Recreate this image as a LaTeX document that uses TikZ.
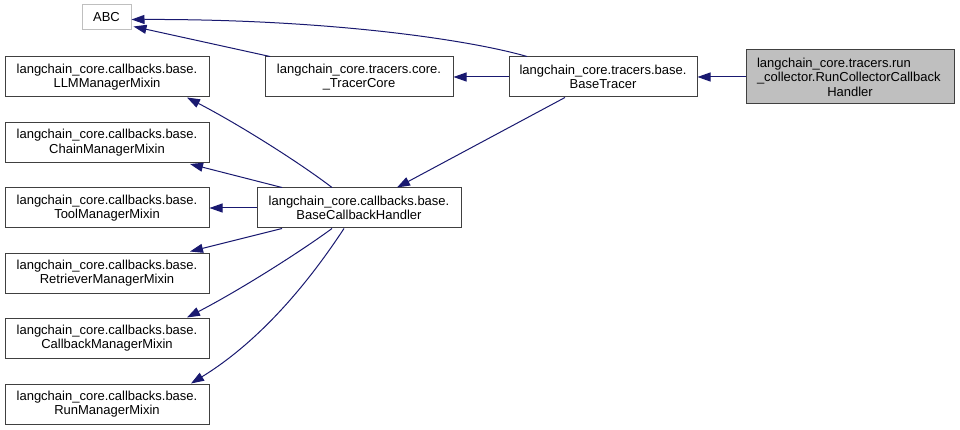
\documentclass[tikz,border=0pt]{standalone}
\usepackage{fontspec}
\setmainfont{Liberation Sans}
\usetikzlibrary{arrows.meta}
\definecolor{edgecol}{HTML}{191970}
\definecolor{boxborder}{HTML}{404040}
\definecolor{abcborder}{HTML}{BFBFBF}
\definecolor{hilite}{HTML}{BFBFBF}
\begin{document}
\begin{tikzpicture}[x=1pt,y=-1pt,
  box/.style={draw=boxborder, line width=1pt, fill=white, rectangle, inner sep=0pt,
    minimum height=40pt, align=center, font=\fontsize{13}{14.5}\selectfont},
  wide/.style={box, minimum width=204pt},
  mid/.style={box, minimum width=188pt},
  edge/.style={draw=edgecol, line width=1pt, -{Triangle[length=13pt,width=9pt]}}]
\useasboundingbox (0,0) rectangle (960,430);
\fill[white] (0,0) rectangle (960,430);

\node[box, draw=abcborder, minimum width=49pt, minimum height=25pt] (abc) at (106.5,17.5) {ABC};
\node[mid] (tc) at (359,77) {langchain\_core.tracers.core.\\\_TracerCore};
\node[mid] (bt) at (603,77) {langchain\_core.tracers.base.\\BaseTracer};
\node[box, fill=hilite, minimum width=208pt, minimum height=54pt, text width=186pt, inner xsep=11pt, align=left] (rc) at (850,77)
  {langchain\_core.tracers.run\\\_collector.RunCollectorCallback\\\makebox[\linewidth]{Handler}};

\node[wide] (llm) at (107,77) {langchain\_core.callbacks.base.\\LLMManagerMixin};
\node[wide] (chain) at (107,142.5) {langchain\_core.callbacks.base.\\ChainManagerMixin};
\node[wide] (tool) at (107,208) {langchain\_core.callbacks.base.\\ToolManagerMixin};
\node[wide] (retr) at (107,273) {langchain\_core.callbacks.base.\\RetrieverManagerMixin};
\node[wide] (cbm) at (107,338) {langchain\_core.callbacks.base.\\CallbackManagerMixin};
\node[wide] (run) at (107,404) {langchain\_core.callbacks.base.\\RunManagerMixin};
\node[wide] (bch) at (359,208) {langchain\_core.callbacks.base.\\BaseCallbackHandler};

% edges
\draw[edge] ([xshift=-76pt]bt.north) .. controls (470,40) and (330,19) .. ([yshift=-2pt]abc.east);
\draw[edge] ([xshift=-89pt]tc.north) -- ([xshift=2pt,yshift=-9pt]abc.east);
\draw[edge] (bt.west) -- (tc.east);
\draw[edge] (rc.west) -- (bt.east);
\draw[edge] ([xshift=-38pt]bt.south) -- ([xshift=38pt]bch.north);

\draw[edge] ([xshift=-27pt]bch.north) .. controls (300,163) and (240,125) .. ([xshift=80pt]llm.south);
\draw[edge] ([xshift=-77pt]bch.north) -- ([xshift=83pt,yshift=-1pt]chain.south);
\draw[edge] (bch.west) -- (tool.east);
\draw[edge] ([xshift=-77pt]bch.south) -- ([xshift=83pt,yshift=1pt]retr.north);
\draw[edge] ([xshift=-27pt]bch.south) .. controls (300,252) and (240,290) .. ([xshift=80pt]cbm.north);
\draw[edge] ([xshift=-15pt]bch.south) .. controls (320,265) and (270,335) .. ([xshift=84pt]run.north);
\end{tikzpicture}
\end{document}
